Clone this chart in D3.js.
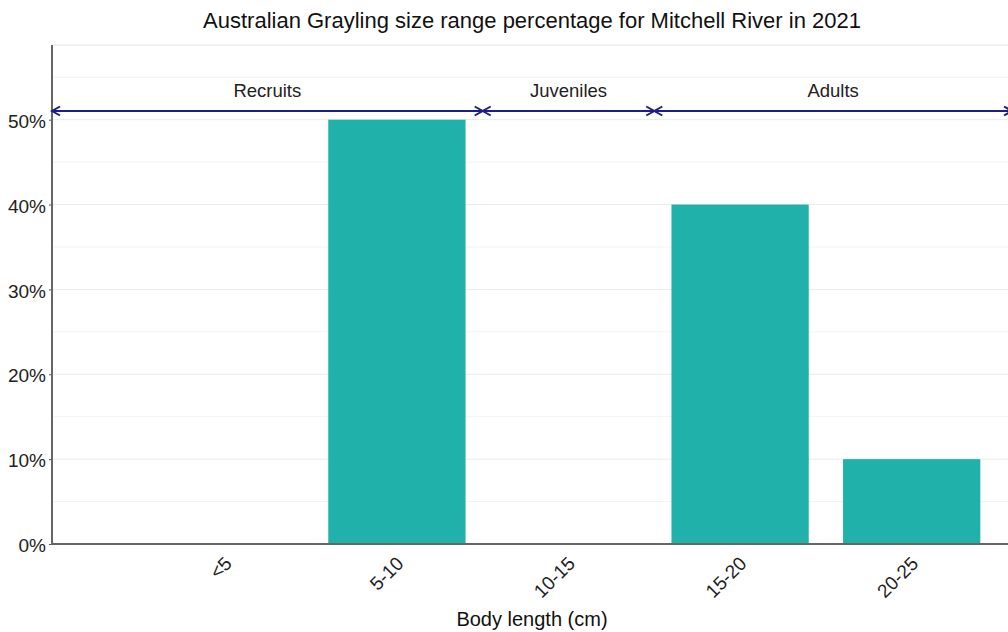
<!DOCTYPE html>
<html><head><meta charset="utf-8">
<script src="https://cdn.jsdelivr.net/npm/d3@7"></script>
<style>
html,body{margin:0;padding:0;background:#fff;}
text{font-family:"Liberation Sans",Arial,sans-serif;}
</style></head>
<body>
<svg id="chart" width="1008" height="632"></svg>
<script>
const categories = ["<5", "5-10", "10-15", "15-20", "20-25"];
const percentages = [0, 50, 0, 40, 10];
const yTicks = [0, 10, 20, 30, 40, 50];
const yMinorTicks = [5, 15, 25, 35, 45, 55];
const stages = ["Recruits", "Juveniles", "Adults"];
// stage boundaries expressed as category-index positions (between bands)
const stageStart = [null, 1.5, 2.5];
const stageEnd = [1.5, 2.5, null];
const titleText = "Australian Grayling size range percentage for Mitchell River in 2021";
const xTitle = "Body length (cm)";

const svg = d3.select("#chart");
const panel = {left: 52, right: 1012, top: 45, bottom: 544};

const x = d3.scaleBand().domain(categories).range([52, 1085]).paddingInner(0.2).paddingOuter(0.61);
const y = d3.scaleLinear().domain([0, 58.8]).range([panel.bottom, panel.top]);
const idxX = i => x(categories[0]) + x.bandwidth()/2 + i * x.step();

// grid
svg.append("g").selectAll("line").data(yMinorTicks).join("line")
  .attr("x1", panel.left).attr("x2", panel.right)
  .attr("y1", d => y(d)).attr("y2", d => y(d))
  .attr("stroke", "#f3f3f3").attr("stroke-width", 1);
svg.append("g").selectAll("line").data(yTicks).join("line")
  .attr("x1", panel.left).attr("x2", panel.right)
  .attr("y1", d => y(d)).attr("y2", d => y(d))
  .attr("stroke", "#ebebeb").attr("stroke-width", 1);
svg.append("line").attr("x1", panel.left).attr("x2", panel.right)
  .attr("y1", panel.top).attr("y2", panel.top).attr("stroke", "#e6e6e6");

// bars
svg.append("g").selectAll("rect").data(categories.map((c,i)=>({c, v: percentages[i]}))).join("rect")
  .attr("x", d => x(d.c)).attr("width", x.bandwidth())
  .attr("y", d => y(d.v)).attr("height", d => y(0) - y(d.v))
  .attr("fill", "#20B2AA");

// axes
const yAxis = svg.append("g").attr("transform", `translate(${panel.left},0)`)
  .call(d3.axisLeft(y).tickValues(yTicks).tickFormat(d => d + "%").tickSize(3).tickPadding(3));
yAxis.select(".domain").remove();
yAxis.selectAll(".tick line").attr("stroke", "#555");
yAxis.selectAll("text").attr("font-size", 19).attr("fill", "#222").attr("dy", "0.4em");
svg.append("line").attr("x1", panel.left).attr("x2", panel.left)
  .attr("y1", panel.top).attr("y2", panel.bottom + 1)
  .attr("stroke", "#666").attr("stroke-width", 2);

const xAxis = svg.append("g").attr("transform", `translate(0,${panel.bottom})`)
  .call(d3.axisBottom(x).tickSize(0).tickPadding(0));
xAxis.select(".domain").remove();
xAxis.selectAll("text")
  .attr("font-size", 19).attr("fill", "#222")
  .attr("text-anchor", "end")
  .attr("transform", "translate(3,16) rotate(-45)")
  .attr("dy", "0.35em").attr("x", 0).attr("y", 0);
svg.append("line").attr("x1", panel.left).attr("x2", panel.right)
  .attr("y1", panel.bottom).attr("y2", panel.bottom)
  .attr("stroke", "#666").attr("stroke-width", 2);

// stage arrows
const arrowY = 111;
const stageData = stages.map((s,i) => ({
  s,
  x0: stageStart[i] === null ? panel.left : idxX(stageStart[i]),
  x1: stageEnd[i] === null ? panel.right : idxX(stageEnd[i])
}));
const ag = svg.append("g");
const navy = "#1c1c8a";
stageData.forEach(d => {
  ag.append("line").attr("x1", d.x0).attr("x2", d.x1).attr("y1", arrowY).attr("y2", arrowY)
    .attr("stroke", navy).attr("stroke-width", 2);
  const h = 8, v = 4.5;
  ag.append("path").attr("d", `M${d.x0+h},${arrowY-v}L${d.x0},${arrowY}L${d.x0+h},${arrowY+v}`)
    .attr("fill", "none").attr("stroke", navy).attr("stroke-width", 2);
  ag.append("path").attr("d", `M${d.x1-h},${arrowY-v}L${d.x1},${arrowY}L${d.x1-h},${arrowY+v}`)
    .attr("fill", "none").attr("stroke", navy).attr("stroke-width", 2);
  ag.append("text").attr("x", (d.x0 + d.x1)/2).attr("y", 97)
    .attr("text-anchor", "middle").attr("font-size", 18.5).attr("fill", "#222").text(d.s);
});

// titles
svg.append("text").attr("x", (panel.left + panel.right)/2).attr("y", 28)
  .attr("text-anchor", "middle").attr("font-size", 22).attr("fill", "#111").text(titleText);
svg.append("text").attr("x", (panel.left + panel.right)/2).attr("y", 626)
  .attr("text-anchor", "middle").attr("font-size", 20).attr("fill", "#111").text(xTitle);
</script>
</body></html>
